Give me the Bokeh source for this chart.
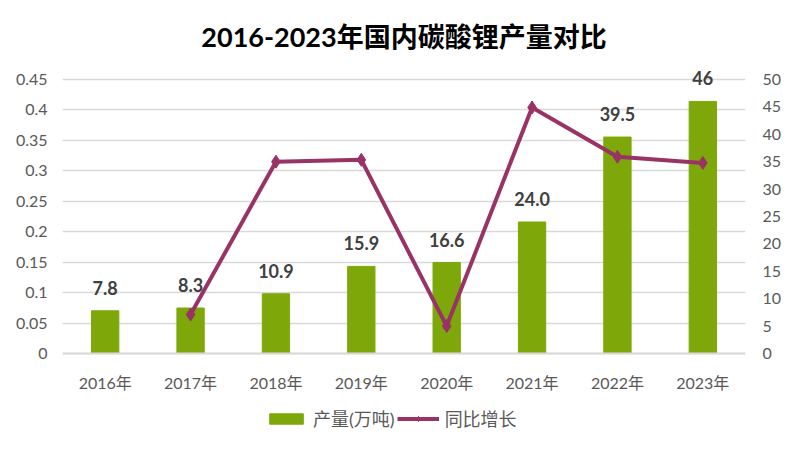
from bokeh.plotting import figure
from bokeh.models import (ColumnDataSource, FactorRange, Range1d, LinearAxis, FixedTicker,
                          NumeralTickFormatter, Legend, LegendItem, LabelSet)
from bokeh.core.properties import value
from bokeh.embed import file_html
from bokeh.resources import INLINE

# ---- data ----
years = ["2016年", "2017年", "2018年", "2019年", "2020年", "2021年", "2022年", "2023年"]
output = [7.8, 8.3, 10.9, 15.9, 16.6, 24.0, 39.5, 46]
output_labels = ["7.8", "8.3", "10.9", "15.9", "16.6", "24.0", "39.5", "46"]
growth_years = ["2017年", "2018年", "2019年", "2020年", "2021年", "2022年", "2023年"]
growth = [0.064, 0.315, 0.318, 0.045, 0.404, 0.323, 0.313]
left_ticks = [0, 0.05, 0.1, 0.15, 0.2, 0.25, 0.3, 0.35, 0.4, 0.45]
right_ticks = [0, 5, 10, 15, 20, 25, 30, 35, 40, 45, 50]
title_text = "2016-2023年国内碳酸锂产量对比"
bar_name = "产量(万吨)"
line_name = "同比增长"

FONT = "Lato, Noto Sans CJK SC"
BAR_C = "#7EA80A"
LINE_C = "#993366"
TICK_C = "#595959"
GRID_C = "#D9D9D9"

bar_src = ColumnDataSource(dict(x=years, y=output, label=output_labels))
line_src = ColumnDataSource(dict(x=growth_years, y=growth))

# ranges extend above the top tick (room for the top label) and below zero (room for
# the category labels and the legend); the x axis is pinned at zero
p = figure(width=794, height=452, x_range=FactorRange(*years, range_padding=0),
           y_range=Range1d(-0.1462, 0.4812), output_backend="svg", toolbar_location=None,
           min_border_left=62, min_border_right=49, min_border_top=60, min_border_bottom=10)
p.extra_y_ranges = {"right": Range1d(-16.24, 53.47)}
p.styles = {"outline": "1px solid #D9D9D9", "outline-offset": "-2px"}

p.title.text = title_text
p.title.align = "center"
p.title.text_font = FONT
p.title.text_font_size = "27px"
p.title.text_font_style = "bold"
p.title.text_color = "#000000"
p.title.standoff = 16

p.outline_line_color = None
p.background_fill_color = "white"
p.border_fill_color = "white"

# left axis (default)
ya = p.yaxis[0]
ya.ticker = FixedTicker(ticks=left_ticks)
ya.formatter = NumeralTickFormatter(format="0.[00]")
ya.axis_line_color = None
ya.major_tick_line_color = None
ya.minor_tick_line_color = None
ya.major_label_standoff = 9
ya.major_label_text_font = FONT
ya.major_label_text_font_size = "16px"
ya.major_label_text_color = TICK_C

# right axis
ra = LinearAxis(y_range_name="right", ticker=FixedTicker(ticks=right_ticks))
ra.axis_line_color = None
ra.major_tick_line_color = None
ra.minor_tick_line_color = None
ra.major_label_standoff = 11
ra.major_label_text_font = FONT
ra.major_label_text_font_size = "16px"
ra.major_label_text_color = TICK_C
p.add_layout(ra, "right")

xa = p.xaxis[0]
xa.fixed_location = 0
xa.axis_line_color = GRID_C
xa.axis_line_width = 2
xa.major_tick_line_color = None
xa.minor_tick_line_color = None
xa.major_label_standoff = 14
xa.major_label_text_font = FONT
xa.major_label_text_font_size = "16px"
xa.major_label_text_color = TICK_C

p.xgrid.grid_line_color = None
p.ygrid.grid_line_color = GRID_C
p.ygrid.grid_line_width = 1.5

bars = p.vbar(x="x", top="y", width=0.32, source=bar_src, color=BAR_C, y_range_name="right")
labels = LabelSet(x="x", y="y", text="label", source=bar_src, y_range_name="right",
                  text_align="center", text_baseline="bottom", y_offset=16,
                  text_font=value(FONT), text_font_size=value("18px"), text_font_style="bold",
                  text_color="#404040")
p.add_layout(labels)

ln = p.line(x="x", y="y", source=line_src, line_color=LINE_C, line_width=4)
mk = p.scatter(x="x", y="y", source=line_src, marker="diamond", size=13,
               fill_color=LINE_C, line_color=LINE_C)

legend = Legend(items=[LegendItem(label=bar_name, renderers=[bars]),
                       LegendItem(label=line_name, renderers=[ln, mk])],
                orientation="horizontal", location=(203, 11),
                glyph_width=42, glyph_height=13, label_standoff=6, spacing=2,
                padding=0, margin=0, border_line_color=None, background_fill_alpha=0,
                label_text_font=FONT, label_text_font_size="18px", label_text_color=TICK_C)
p.add_layout(legend)

open("out.html", "w").write(file_html(p, INLINE))
